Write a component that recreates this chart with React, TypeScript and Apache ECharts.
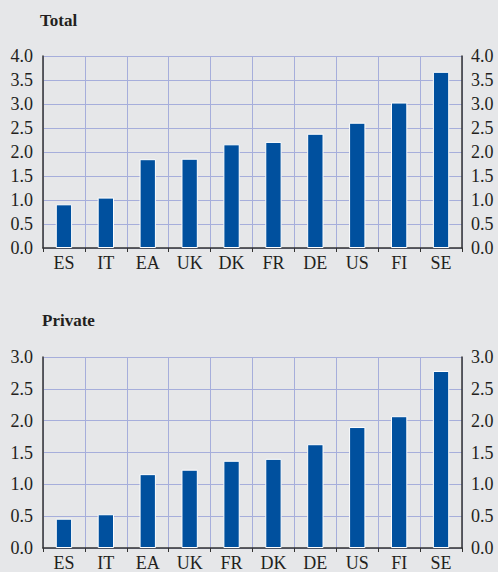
import React, { useEffect, useRef } from "react";
import * as echarts from "echarts";

const totalCategories = ["ES", "IT", "EA", "UK", "DK", "FR", "DE", "US", "FI", "SE"];
const totalValues = [0.91, 1.05, 1.85, 1.86, 2.16, 2.21, 2.38, 2.61, 3.03, 3.67];
const privateCategories = ["ES", "IT", "EA", "UK", "FR", "DK", "DE", "US", "FI", "SE"];
const privateValues = [0.46, 0.53, 1.16, 1.23, 1.37, 1.4, 1.63, 1.9, 2.07, 2.78];
const totalTitle = "Total";
const privateTitle = "Private";

const FONT = "'Liberation Serif', 'DejaVu Serif', serif";
const GRID_COLOR = "#a6aedb";
const BAR_COLOR = "#00509e";
const TEXT_COLOR = "#231f20";

export default function App() {
  const ref = useRef<HTMLDivElement>(null);
  useEffect(() => {
    if (!ref.current) return;
    const chart = echarts.init(ref.current, null, { renderer: "svg" });
    const xAxis = (gridIndex: number, data: string[]) => ({
      type: "category" as const,
      gridIndex,
      data,
      boundaryGap: true,
      axisLine: { show: true, lineStyle: { color: "#333", width: 1.5 } },
      axisTick: { show: true, length: 4, inside: false, lineStyle: { color: "#333" } },
      axisLabel: { color: TEXT_COLOR, fontFamily: FONT, fontSize: 18, margin: 6 },
      splitLine: { show: true, lineStyle: { color: GRID_COLOR, width: 1 } },
    });
    const yAxis = (gridIndex: number, max: number, position: "left" | "right") => ({
      type: "value" as const,
      gridIndex,
      position,
      min: 0,
      max,
      interval: 0.5,
      axisLine: { show: true, lineStyle: { color: "#333", width: 1.5 } },
      axisTick: { show: false },
      axisLabel: {
        color: TEXT_COLOR,
        fontFamily: FONT,
        fontSize: 18,
        margin: position === "left" ? 10 : 9,
        formatter: (v: number) => v.toFixed(1),
      },
      splitLine: { show: position === "left", lineStyle: { color: GRID_COLOR, width: 1 } },
    });
    const barSeries = (idx: number, data: number[]) => ({
      type: "bar" as const,
      xAxisIndex: idx,
      yAxisIndex: idx * 2,
      data,
      barWidth: "39%",
      itemStyle: { color: BAR_COLOR, borderColor: "#ffffff", borderWidth: 1 },
    });
    chart.setOption({
      animation: false,
      backgroundColor: "#e6e7e9",
      graphic: [
        {
          type: "text",
          left: 40,
          top: 12,
          style: { text: totalTitle, fontFamily: FONT, fontWeight: "bold", fontSize: 17, fill: TEXT_COLOR },
        },
        {
          type: "text",
          left: 42,
          top: 312,
          style: { text: privateTitle, fontFamily: FONT, fontWeight: "bold", fontSize: 17, fill: TEXT_COLOR },
        },
      ],
      grid: [
        { left: 43, right: 36, top: 56, height: 192 },
        { left: 43, right: 36, top: 357, height: 191 },
      ],
      xAxis: [xAxis(0, totalCategories), xAxis(1, privateCategories)],
      yAxis: [yAxis(0, 4, "left"), yAxis(0, 4, "right"), yAxis(1, 3, "left"), yAxis(1, 3, "right")],
      series: [barSeries(0, totalValues), barSeries(1, privateValues)],
    });
    return () => chart.dispose();
  }, []);
  return (
    <div
      ref={ref}
      style={{ width: 498, height: 572, position: "absolute", left: 0, top: 0 }}
    />
  );
}
